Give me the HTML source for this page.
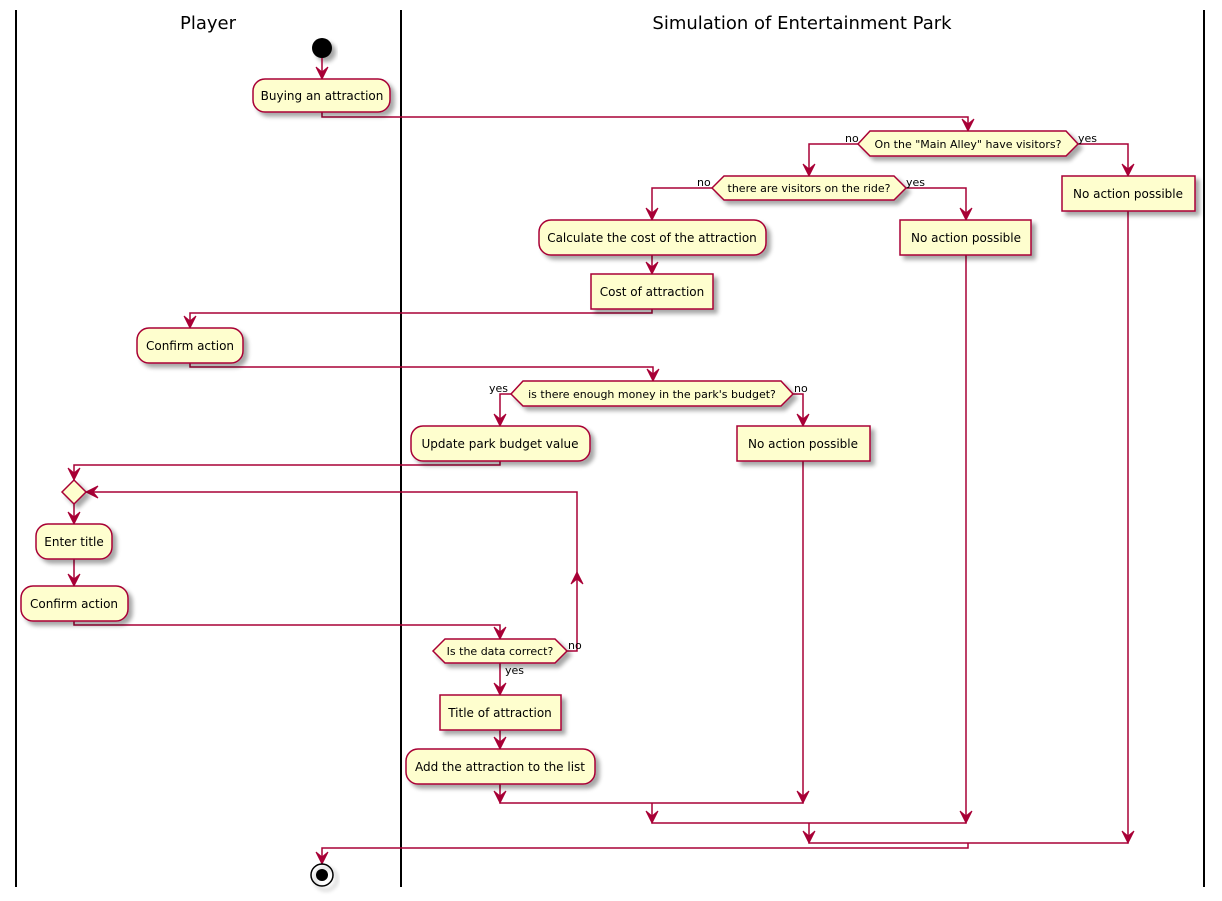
<!DOCTYPE html>
<html><head><meta charset="utf-8"><style>
html,body{margin:0;padding:0;background:#fff;}
svg{display:block;}
text{font-family:"DejaVu Sans","Liberation Sans",sans-serif;fill:#000;}
.b{fill:#FEFECE;stroke:#A80036;stroke-width:1.5;filter:url(#sh);}
.l{fill:none;stroke:#A80036;stroke-width:1.5;}
.a{fill:#A80036;stroke:#A80036;stroke-width:1;}
.t{font-size:12px;text-anchor:middle;}
.d{font-size:11px;text-anchor:middle;}
.s{font-size:11px;}
.h{font-size:18px;text-anchor:middle;}
</style></head><body>
<svg width="1222" height="901" viewBox="0 0 1222 901" xmlns="http://www.w3.org/2000/svg">
<defs>
<filter id="sh" x="-20%" y="-20%" width="150%" height="160%">
<feGaussianBlur in="SourceAlpha" stdDeviation="2"/>
<feOffset dx="4" dy="4" result="o"/>
<feComponentTransfer><feFuncA type="linear" slope="0.35"/></feComponentTransfer>
<feMerge><feMergeNode/><feMergeNode in="SourceGraphic"/></feMerge>
</filter>
</defs>

<line x1="16" y1="10" x2="16" y2="887" stroke="#000" stroke-width="2"/>
<line x1="401" y1="10" x2="401" y2="887" stroke="#000" stroke-width="2"/>
<line x1="1204" y1="10" x2="1204" y2="887" stroke="#000" stroke-width="2"/>
<text class="h" x="208" y="29">Player</text>
<text class="h" x="802" y="29">Simulation of Entertainment Park</text>

<circle cx="322" cy="48" r="10" fill="#000" filter="url(#sh)"/>
<path class="l" d="M322 58 V79"/>

<path class="l" d="M322 112 V117 H968 V131"/>
<path class="l" d="M858 144 H809 V176"/>
<path class="l" d="M1078 144 H1128 V176"/>
<path class="l" d="M712 188 H652 V220"/>
<path class="l" d="M906 188 H966 V220"/>
<path class="l" d="M652 255 V274"/>
<path class="l" d="M652 309 V313 H190 V328"/>
<path class="l" d="M190 363 V367 H653 V381"/>
<path class="l" d="M511 394 H500 V426"/>
<path class="l" d="M793 394 H803 V426"/>
<path class="l" d="M500 461 V465 H74 V480"/>
<path class="l" d="M74 504 V524"/>
<path class="l" d="M74 559 V586"/>
<path class="l" d="M74 621 V625 H500 V639"/>
<path class="l" d="M567 651 H577 V492 H86"/>
<path class="l" d="M500 663 V695"/>
<path class="l" d="M500 730 V749"/>
<path class="l" d="M500 784 V803 H803 V461"/>
<path class="l" d="M652 803 V823 H966 V255"/>
<path class="l" d="M809 823 V843 H1128 V211"/>
<path class="l" d="M968 843 V848 H322 V864"/>

<g class="a">
<polygon points="316,67 322,79 328,67 322,72"/>
<polygon points="962,119 968,131 974,119 968,124"/>
<polygon points="803,164 809,176 815,164 809,169"/>
<polygon points="1122,164 1128,176 1134,164 1128,169"/>
<polygon points="646,208 652,220 658,208 652,213"/>
<polygon points="960,208 966,220 972,208 966,213"/>
<polygon points="646,262 652,274 658,262 652,267"/>
<polygon points="184,316 190,328 196,316 190,321"/>
<polygon points="647,369 653,381 659,369 653,374"/>
<polygon points="494,414 500,426 506,414 500,419"/>
<polygon points="797,414 803,426 809,414 803,419"/>
<polygon points="68,468 74,480 80,468 74,473"/>
<polygon points="68,512 74,524 80,512 74,517"/>
<polygon points="68,574 74,586 80,574 74,579"/>
<polygon points="494,627 500,639 506,627 500,632"/>
<polygon points="494,683 500,695 506,683 500,688"/>
<polygon points="494,737 500,749 506,737 500,742"/>
<polygon points="494,791 500,803 506,791 500,796"/>
<polygon points="797,791 803,803 809,791 803,796"/>
<polygon points="646,811 652,823 658,811 652,816"/>
<polygon points="960,811 966,823 972,811 966,816"/>
<polygon points="803,831 809,843 815,831 809,836"/>
<polygon points="1122,831 1128,843 1134,831 1128,836"/>
<polygon points="316,852 322,864 328,852 322,857"/>
<polygon points="571,584 577,572 583,584 577,579"/>
<polygon points="98,486 86,492 98,498 93,492"/>
</g>

<rect class="b" x="253" y="79" width="137" height="33" rx="12"/>
<text class="t" x="322" y="100">Buying an attraction</text>

<polygon class="b" points="858,144 870,131 1066,131 1078,144 1066,156 870,156"/>
<text class="d" x="968" y="148">On the "Main Alley" have visitors?</text>
<text class="s" x="845" y="142">no</text>
<text class="s" x="1078" y="142">yes</text>

<rect class="b" x="1062" y="176" width="133" height="35"/>
<text class="t" x="1128" y="198">No action possible</text>

<polygon class="b" points="712,188 724,176 894,176 906,188 894,200 724,200"/>
<text class="d" x="809" y="192">there are visitors on the ride?</text>
<text class="s" x="697" y="186">no</text>
<text class="s" x="906" y="186">yes</text>

<rect class="b" x="539" y="220" width="227" height="35" rx="12"/>
<text class="t" x="652" y="242">Calculate the cost of the attraction</text>

<rect class="b" x="900" y="220" width="131" height="35"/>
<text class="t" x="966" y="242">No action possible</text>

<rect class="b" x="591" y="274" width="122" height="35"/>
<text class="t" x="652" y="296">Cost of attraction</text>

<rect class="b" x="137" y="328" width="106" height="35" rx="12"/>
<text class="t" x="190" y="350">Confirm action</text>

<polygon class="b" points="511,394 523,381 781,381 793,394 781,406 523,406"/>
<text class="d" x="652" y="398">is there enough money in the park's budget?</text>
<text class="s" x="489" y="392">yes</text>
<text class="s" x="794" y="392">no</text>

<rect class="b" x="411" y="426" width="179" height="35" rx="12"/>
<text class="t" x="500" y="448">Update park budget value</text>

<rect class="b" x="737" y="426" width="133" height="35"/>
<text class="t" x="803" y="448">No action possible</text>

<polygon class="b" points="62,492 74,480 86,492 74,504"/>

<rect class="b" x="36" y="524" width="76" height="35" rx="12"/>
<text class="t" x="74" y="546">Enter title</text>

<rect class="b" x="21" y="586" width="107" height="35" rx="12"/>
<text class="t" x="74" y="608">Confirm action</text>

<polygon class="b" points="433,651 445,639 555,639 567,651 555,663 445,663"/>
<text class="d" x="500" y="655">Is the data correct?</text>
<text class="s" x="568" y="649">no</text>
<text class="s" x="505" y="674">yes</text>

<rect class="b" x="440" y="695" width="121" height="35"/>
<text class="t" x="500" y="717">Title of attraction</text>

<rect class="b" x="406" y="749" width="189" height="35" rx="12"/>
<text class="t" x="500" y="771">Add the attraction to the list</text>

<circle cx="322" cy="875" r="11" fill="none" stroke="#000" stroke-width="1.5" filter="url(#sh)"/>
<circle cx="322" cy="875" r="6" fill="#000"/>
</svg>
</body></html>
